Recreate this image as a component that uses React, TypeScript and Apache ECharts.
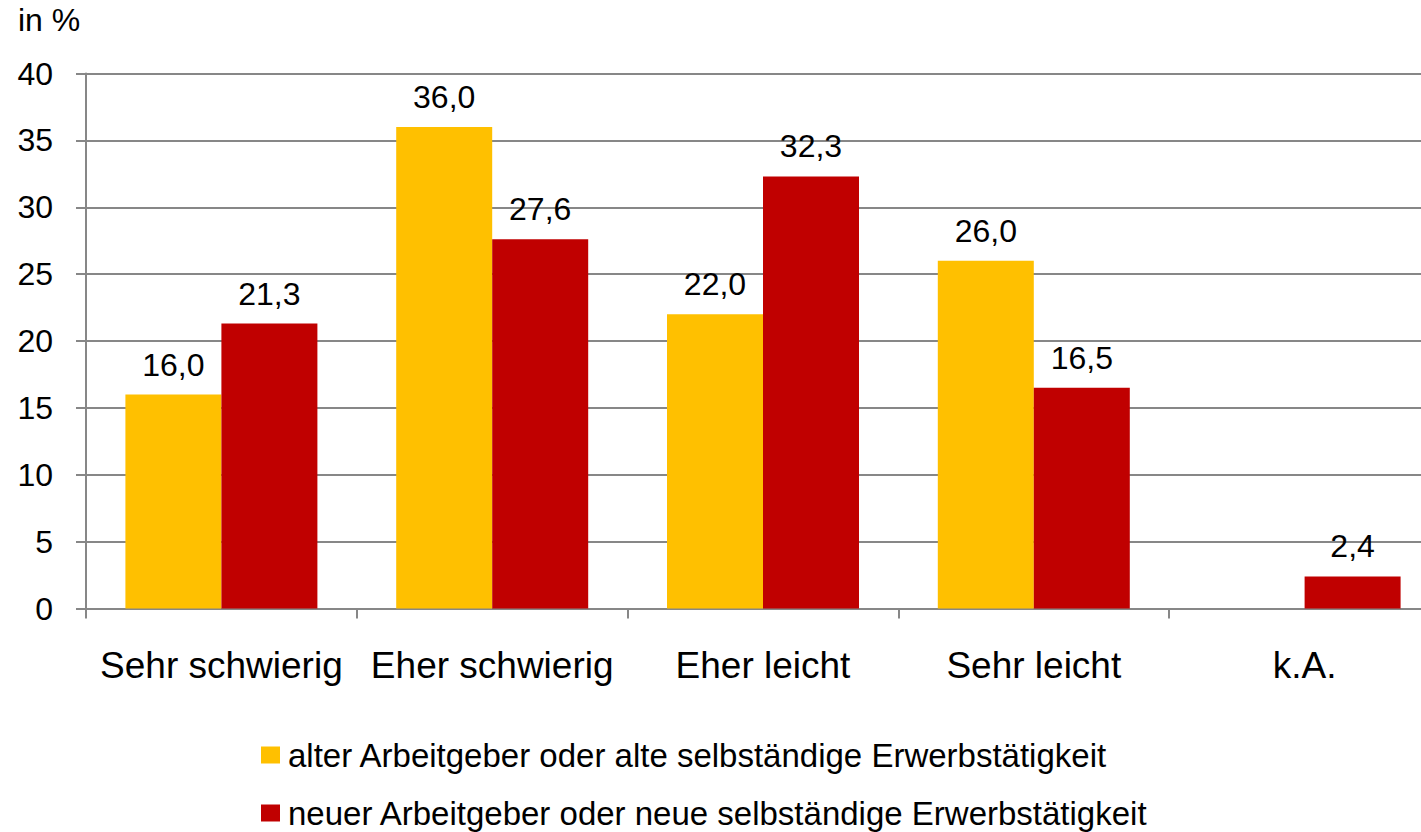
import React, { useEffect, useRef } from "react";
import * as echarts from "echarts";

const categories = ["Sehr schwierig", "Eher schwierig", "Eher leicht", "Sehr leicht", "k.A."];
const seriesNames = [
  "alter Arbeitgeber oder alte selbständige Erwerbstätigkeit",
  "neuer Arbeitgeber oder neue selbständige Erwerbstätigkeit",
];
const oldValues: (number | string)[] = [16.0, 36.0, 22.0, 26.0, "-"];
const newValues: (number | string)[] = [21.3, 27.6, 32.3, 16.5, 2.4];
const yTicks = { min: 0, max: 40, interval: 5 };
const unitLabel = "in %";

const FONT = '"Liberation Sans", Arial, Helvetica, sans-serif';
const AXIS_COLOR = "#878787";
const CHART_W = 1460;

export default function App() {
  const ref = useRef<HTMLDivElement>(null);
  useEffect(() => {
    document.body.style.margin = "0";
    if (!ref.current) return;
    const chart = echarts.init(ref.current, undefined, { renderer: "svg" });
    const fmt = (p: any) =>
      typeof p.value === "number" ? p.value.toFixed(1).replace(".", ",") : "";
    const labelCfg = {
      show: true,
      position: "top",
      distance: 14,
      color: "#000",
      fontSize: 32,
      fontFamily: FONT,
      formatter: fmt,
    };
    const legendBase = {
      orient: "vertical",
      left: 256,
      itemWidth: 19,
      itemHeight: 17,
      icon: "rect",
      textStyle: {
        fontSize: 33,
        lineHeight: 36,
        fontFamily: FONT,
        color: "#000",
        padding: [0, 0, 0, 3],
      },
    };
    chart.setOption({
      animation: false,
      backgroundColor: "#fff",
      textStyle: { fontFamily: FONT },
      graphic: [
        {
          type: "text",
          left: 18,
          top: 4,
          style: { text: unitLabel, fontSize: 32, fontFamily: FONT, fill: "#000" },
        },
      ],
      legend: [
        { ...legendBase, top: 732, data: [seriesNames[0]] },
        { ...legendBase, top: 790, data: [seriesNames[1]] },
      ],
      grid: { left: 86, right: CHART_W - 1440, top: 73.5, bottom: 223.5, containLabel: false },
      xAxis: {
        type: "category",
        data: categories,
        axisLine: { show: true, lineStyle: { color: AXIS_COLOR, width: 2 } },
        axisTick: { show: true, length: 10, lineStyle: { color: AXIS_COLOR, width: 2 } },
        axisLabel: { color: "#000", fontSize: 37, fontFamily: FONT, margin: 38, interval: 0 },
      },
      yAxis: {
        type: "value",
        min: yTicks.min,
        max: yTicks.max,
        interval: yTicks.interval,
        axisLine: { show: true, lineStyle: { color: AXIS_COLOR, width: 2 } },
        axisTick: { show: true, length: 10, lineStyle: { color: AXIS_COLOR, width: 2 } },
        splitLine: { show: true, lineStyle: { color: AXIS_COLOR, width: 2 } },
        axisLabel: { color: "#000", fontSize: 32, fontFamily: FONT, margin: 33 },
      },
      series: [
        {
          name: seriesNames[0],
          type: "bar",
          data: oldValues,
          barWidth: 96,
          barGap: "0%",
          itemStyle: { color: "#FFC000" },
          label: labelCfg,
        },
        {
          name: seriesNames[1],
          type: "bar",
          data: newValues,
          barWidth: 96,
          barGap: "0%",
          itemStyle: { color: "#C00000" },
          label: labelCfg,
        },
      ],
    });
    return () => chart.dispose();
  }, []);
  return (
    <div style={{ width: 1421, height: 832, overflow: "hidden", position: "relative" }}>
      <div ref={ref} style={{ width: CHART_W, height: 832 }} />
    </div>
  );
}
